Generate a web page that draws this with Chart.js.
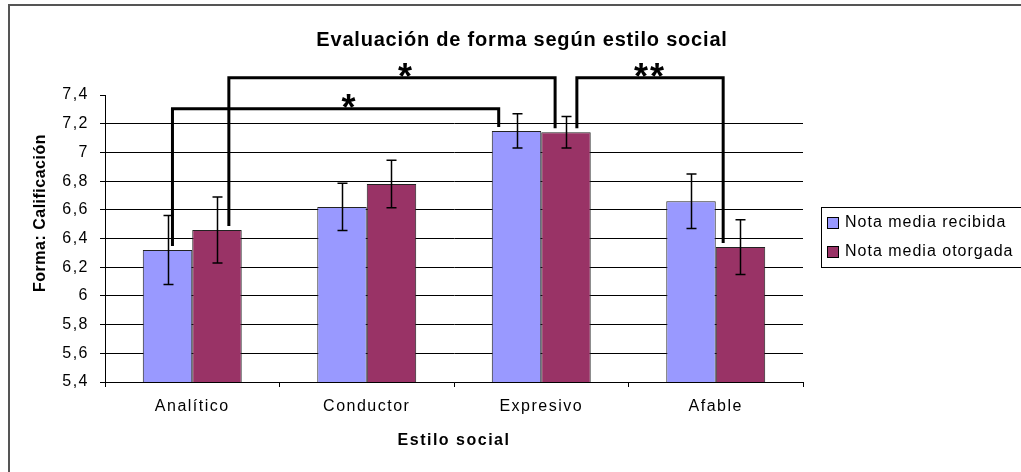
<!DOCTYPE html>
<html>
  <head>
    <meta charset="utf-8">
    <title>Evaluación de forma según estilo social</title>
    <style>
      html, body { margin: 0; padding: 0; background: #fff; }
      #wrap { width: 1021px; height: 472px; }
    </style>
  </head>
  <body>
    <div id="wrap"><canvas id="myChart" width="1021" height="472"></canvas></div>

    <script src="https://cdn.jsdelivr.net/npm/chart.js@4/dist/chart.umd.min.js"></script>
    <script>
      // data
      var categories = ['Analítico', 'Conductor', 'Expresivo', 'Afable'];
      var notaRecibida = [6.32, 6.62, 7.15, 6.66];
      var notaOtorgada = [6.46, 6.78, 7.14, 6.34];
      var errRecibida = [0.24, 0.165, 0.12, 0.19];
      var errOtorgada = [0.23, 0.165, 0.11, 0.19];
      var yMin = 5.4, yMax = 7.4, yStep = 0.2;

      // significance brackets: [category, dataset] at each end, level in y units
      var sigBrackets = [
        { label: '*',  from: [0, 0], to: [2, 0], level: 7.305 },
        { label: '*',  from: [0, 1], to: [2, 1], level: 7.52 },
        { label: '**', from: [2, 1], to: [3, 1], level: 7.52 }
      ];
      // horizontal shift of bracket ends, as a share of the bar width
      var bracketShift = [[0.1, -0.36], [0.24, -0.22], [0.22, -0.35]];
      var starShift = [14, 14, 0];

      var FONT = "'Liberation Sans', Arial, sans-serif";
      var ctx = document.getElementById('myChart');

      function fmt(v) {
        var r = Math.round(v * 10) / 10;
        return String(r).replace('.', ',');
      }

      var extras = {
        id: 'extras',
        beforeDraw: function (chart) {
          chart.ctx.letterSpacing = '1.5px';
        },
        afterDatasetsDraw: function (chart) {
          var c = chart.ctx, y = chart.scales.y;
          var errs = [errRecibida, errOtorgada];
          c.save();
          c.strokeStyle = '#000';
          c.lineWidth = 1.5;
          for (var d = 0; d < 2; d++) {
            var meta = chart.getDatasetMeta(d);
            var vals = chart.data.datasets[d].data;
            for (var i = 0; i < vals.length; i++) {
              var x = Math.round(meta.data[i].x) + 0.5;
              var hi = y.getPixelForValue(vals[i] + errs[d][i]);
              var lo = y.getPixelForValue(vals[i] - errs[d][i]);
              c.beginPath();
              c.moveTo(x, hi); c.lineTo(x, lo);
              c.moveTo(x - 5, hi); c.lineTo(x + 5, hi);
              c.moveTo(x - 5, lo); c.lineTo(x + 5, lo);
              c.stroke();
            }
          }
          c.restore();
        },
        afterDraw: function (chart) {
          var c = chart.ctx, y = chart.scales.y;
          c.save();
          c.letterSpacing = '0px';

          // outer frame
          c.strokeStyle = '#555';
          c.lineWidth = 2;
          c.beginPath();
          c.moveTo(9, 480); c.lineTo(9, 5); c.lineTo(1030, 5);
          c.stroke();

          // title
          c.fillStyle = '#000';
          c.textAlign = 'center';
          c.textBaseline = 'middle';
          c.font = 'bold 20px ' + FONT;
          c.letterSpacing = '0.8px';
          c.fillText('Evaluación de forma según estilo social', 522, 40);

          // y axis title
          c.save();
          c.translate(41, 213);
          c.rotate(-Math.PI / 2);
          c.font = 'bold 16px ' + FONT;
          c.letterSpacing = '0.5px';
          c.fillText('Forma: Calificación', 0, 0);
          c.restore();

          // brackets
          c.letterSpacing = '0px';
          c.strokeStyle = '#000';
          c.lineWidth = 3;
          c.lineJoin = 'miter';
          sigBrackets.forEach(function (b, k) {
            var m1 = chart.getDatasetMeta(b.from[1]).data[b.from[0]];
            var m2 = chart.getDatasetMeta(b.to[1]).data[b.to[0]];
            var x1 = m1.x + bracketShift[k][0] * m1.width;
            var x2 = m2.x + bracketShift[k][1] * m2.width;
            var top = y.getPixelForValue(b.level);
            c.beginPath();
            c.moveTo(x1, m1.y - 4);
            c.lineTo(x1, top);
            c.lineTo(x2, top);
            c.lineTo(x2, m2.y - 4);
            c.stroke();
            c.font = 'bold 36px ' + FONT;
            c.letterSpacing = '2px';
            c.textBaseline = 'alphabetic';
            c.fillText(b.label, (x1 + x2) / 2 + starShift[k], top + 11);
          });

          // legend
          var lx = 821, ly = 207;
          c.lineWidth = 1;
          c.strokeStyle = '#000';
          c.strokeRect(lx + 0.5, ly + 0.5, 260, 60);
          c.font = '16px ' + FONT;
          c.letterSpacing = '1px';
          c.textAlign = 'left';
          c.textBaseline = 'middle';
          chart.data.datasets.forEach(function (ds, i) {
            var yy = ly + 16 + i * 29;
            c.fillStyle = ds.backgroundColor;
            c.fillRect(lx + 6.5, yy - 5.5, 11, 11);
            c.strokeStyle = '#000';
            c.strokeRect(lx + 6.5, yy - 5.5, 11, 11);
            c.fillStyle = '#000';
            c.fillText(ds.label, lx + 24, yy);
          });
          c.restore();
        }
      };

      new Chart(ctx, {
        type: 'bar',
        data: {
          labels: categories,
          datasets: [
            {
              label: 'Nota media recibida',
              data: notaRecibida,
              backgroundColor: '#9999FF',
              borderColor: '#222',
              borderWidth: 1,
              categoryPercentage: 0.567,
              barPercentage: 1
            },
            {
              label: 'Nota media otorgada',
              data: notaOtorgada,
              backgroundColor: '#993366',
              borderColor: '#222',
              borderWidth: 1,
              categoryPercentage: 0.567,
              barPercentage: 1
            }
          ]
        },
        options: {
          responsive: false,
          animation: false,
          devicePixelRatio: 1,
          layout: { padding: { left: 0, right: 218, top: 95, bottom: 0 } },
          plugins: {
            legend: { display: false },
            title: { display: false },
            tooltip: { enabled: false }
          },
          scales: {
            x: {
              afterFit: function (s) { s.height = 90; },
              grid: { drawOnChartArea: false, offset: true, tickLength: 5, color: '#000' },
              border: { color: '#000', width: 1 },
              ticks: { color: '#000', padding: 10, font: { family: FONT, size: 16 } },
              title: {
                display: true,
                text: 'Estilo social',
                color: '#000',
                font: { family: FONT, size: 16, weight: 'bold' },
                padding: { top: 0, bottom: 22 }
              }
            },
            y: {
              min: yMin,
              max: yMax,
              afterFit: function (s) { s.width = 105; },
              grid: {
                tickLength: 5,
                tickColor: '#000',
                color: function (c) {
                  return c.tick && c.tick.value > yMax - 0.01 ? 'rgba(0,0,0,0)' : '#000';
                }
              },
              border: { color: '#000', width: 1 },
              ticks: {
                stepSize: yStep,
                color: '#000',
                padding: 11,
                font: { family: FONT, size: 16 },
                callback: function (v) { return fmt(v); }
              }
            }
          }
        },
        plugins: [extras]
      });
    </script>
  </body>
</html>
